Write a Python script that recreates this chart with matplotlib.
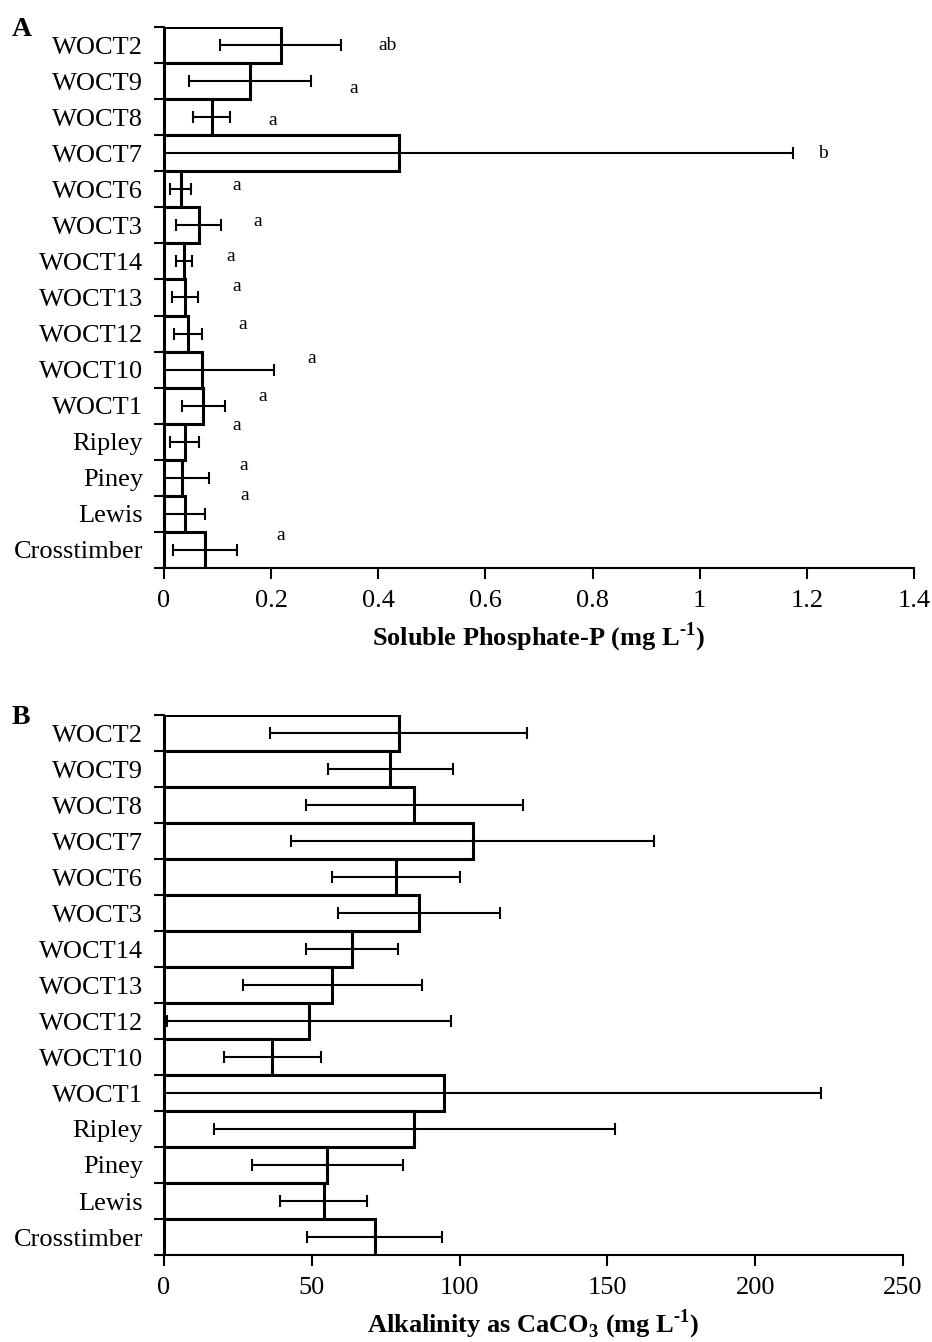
import matplotlib
matplotlib.use("Agg")
import matplotlib.pyplot as plt
import numpy as np

plt.rcParams['font.family'] = ['Liberation Serif', 'DejaVu Serif']
plt.rcParams['mathtext.fontset'] = 'custom'
plt.rcParams['mathtext.rm'] = 'Liberation Serif:bold'
plt.rcParams['mathtext.bf'] = 'Liberation Serif:bold'

sites = ["WOCT2", "WOCT9", "WOCT8", "WOCT7", "WOCT6", "WOCT3", "WOCT14",
         "WOCT13", "WOCT12", "WOCT10", "WOCT1", "Ripley", "Piney", "Lewis",
         "Crosstimber"]

phos_mean = [0.218, 0.161, 0.089, 0.439, 0.031, 0.065, 0.037,
             0.039, 0.045, 0.071, 0.073, 0.039, 0.034, 0.039, 0.076]
phos_se = [0.113, 0.114, 0.035, 0.736, 0.020, 0.042, 0.015,
           0.025, 0.026, 0.134, 0.040, 0.027, 0.050, 0.037, 0.060]
phos_letters = ["ab", "a", "a", "b", "a", "a", "a",
                "a", "a", "a", "a", "a", "a", "a", "a"]
# letter label anchor positions (x in data units, y offset in rows)
letter_x = [0.418, 0.355, 0.203, 1.230, 0.136, 0.174, 0.125,
            0.136, 0.147, 0.276, 0.185, 0.136, 0.149, 0.151, 0.218]
letter_dy = [0.0, 0.2, 0.1, 0.0, -0.1, -0.1, -0.15,
             -0.3, -0.25, -0.3, -0.25, -0.45, -0.35, -0.5, -0.4]

alk_mean = [79.4, 76.6, 84.7, 104.5, 78.5, 86.3, 63.5,
            57.0, 49.1, 36.7, 94.8, 84.7, 55.3, 54.0, 71.3]
alk_se = [43.4, 21.0, 36.6, 61.4, 21.7, 27.3, 15.6,
          30.2, 48.0, 16.4, 127.4, 67.9, 25.6, 14.6, 22.8]

phos_ticks = [0, 0.2, 0.4, 0.6, 0.8, 1.0, 1.2, 1.4]
phos_ticklabels = ["0", "0.2", "0.4", "0.6", "0.8", "1", "1.2", "1.4"]
alk_ticks = [0, 50, 100, 150, 200, 250]

W, H = 932, 1342
fig = plt.figure(figsize=(W / 100, H / 100), dpi=100)
axA = fig.add_axes([164 / W, (H - 568) / H, 750 / W, 541 / H])
axB = fig.add_axes([164 / W, (H - 1255) / H, 739 / W, 540 / H])

FS = 19
ypos = np.arange(len(sites))


def style(ax, xlim, ticks, ticklabels, xlabel):
    ax.set_xlim(*xlim)
    ax.set_ylim(len(sites) - 0.5, -0.5)
    for s in ["top", "right"]:
        ax.spines[s].set_visible(False)
    for s in ["left", "bottom"]:
        ax.spines[s].set_linewidth(1.5)
    ax.set_xticks(ticks)
    ax.set_xticklabels(ticklabels, fontsize=FS)
    ax.tick_params(axis='x', direction='out', length=8, width=1.5, pad=8)
    ax.set_yticks(np.arange(len(sites) + 1) - 0.5)
    ax.set_yticklabels([])
    ax.tick_params(axis='y', which='major', direction='out', length=7, width=1.5)
    ax.set_yticks(ypos, minor=True)
    ax.set_yticklabels(sites, minor=True, fontsize=FS)
    ax.tick_params(axis='y', which='minor', length=0, pad=15)
    ax.set_xlabel(xlabel, fontsize=FS, fontweight='bold', labelpad=6)


axA.barh(ypos, phos_mean, height=1.0, color='white', edgecolor='black',
         linewidth=2.2, zorder=2)
axA.errorbar(phos_mean, ypos, xerr=phos_se, fmt='none', ecolor='black',
             elinewidth=1.5, capsize=4, capthick=1.5, zorder=3)
for lx, dy, lt, y in zip(letter_x, letter_dy, phos_letters, ypos):
    axA.text(lx, y + dy, lt, fontsize=14, ha='center', va='center')
style(axA, (0, 1.4), phos_ticks, phos_ticklabels,
      r'Soluble Phosphate-P (mg L$^{\text{-1}}$)')

axB.barh(ypos, alk_mean, height=1.0, color='white', edgecolor='black',
         linewidth=2.2, zorder=2)
axB.errorbar(alk_mean, ypos, xerr=alk_se, fmt='none', ecolor='black',
             elinewidth=1.5, capsize=4, capthick=1.5, zorder=3)
style(axB, (0, 250), alk_ticks, [str(t) for t in alk_ticks],
      r'Alkalinity as CaCO$_{\mathrm{3}}$ (mg L$^{\text{-1}}$)')

fig.text(12 / W, 1 - 29 / H, "A", fontsize=20, fontweight='bold', va='center')
fig.text(12 / W, 1 - 717 / H, "B", fontsize=20, fontweight='bold', va='center')

fig.savefig("out.png", dpi=100)
